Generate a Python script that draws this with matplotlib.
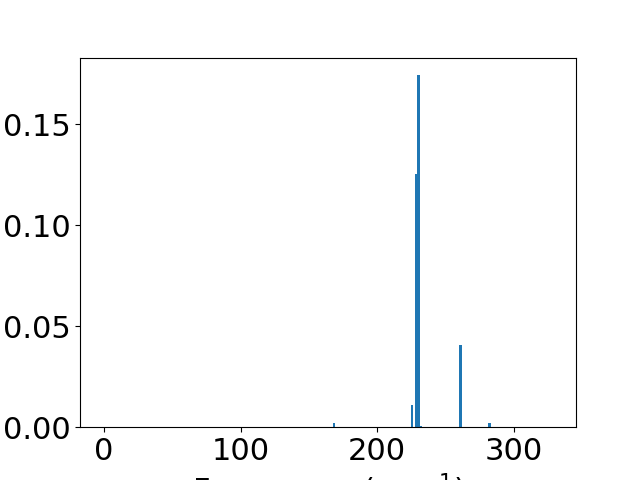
import matplotlib
matplotlib.use("Agg")
import matplotlib.pyplot as plt

# Vibrational modes (cm^-1) and their intensities
frequencies = [0.0, 0.0, 0.0, 168.3, 225.4, 229.0, 230.2, 231.9, 261.2, 282.4, 328.0]
intensities = [0.0, 0.0, 0.0, 0.0020, 0.0108, 0.1255, 0.1743, 0.0006, 0.0405, 0.0020, 0.0]

fig, ax = plt.subplots(figsize=(6.4, 4.8), dpi=100)
ax.bar(frequencies, intensities, width=2.0, color="#1f77b4")
ax.set_xlabel("Frequency (cm$^{-1}$)", fontsize=22)
ax.tick_params(axis="both", labelsize=22)
fig.savefig("out.png", dpi=100)
